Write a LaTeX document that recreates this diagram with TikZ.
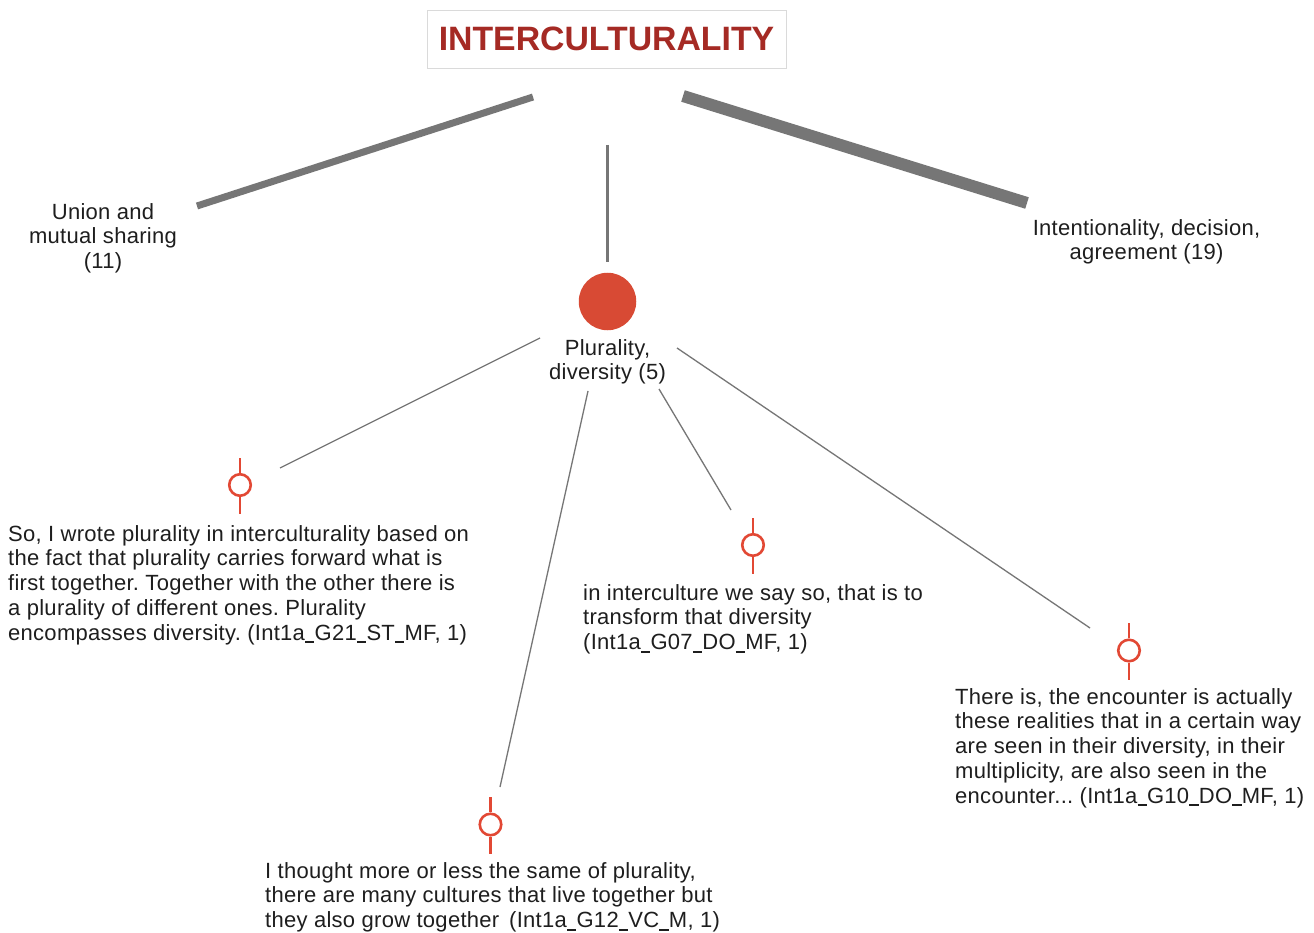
\documentclass[tikz,border=0pt]{standalone}
\usepackage{fontspec}
\setmainfont{Liberation Sans}
\newfontfamily\quotefont[LetterSpace=1.3]{Liberation Sans}
\frenchspacing
\definecolor{titlered}{RGB}{165,42,36}
\definecolor{hubred}{RGB}{216,74,52}
\definecolor{markred}{RGB}{226,72,52}
\definecolor{edgegray}{RGB}{118,118,118}
\definecolor{boxgray}{RGB}{218,218,218}
\definecolor{inkgray}{RGB}{30,30,30}
% a slightly narrower underscore for the interview codes
\newcommand\codebar{\kern0.01em\rule[-0.13em]{0.42em}{0.07em}\kern0.01em}
\begin{document}
\begin{tikzpicture}[x=1pt,y=-1pt,
  txt/.style={inner sep=0pt, font=\quotefont\fontsize{22}{24.75}\selectfont, text=inkgray},
  quote/.style={txt, align=left, anchor=north west},
  catlabel/.style={txt, align=center, anchor=north},
  trunk/.style={draw=edgegray, line cap=butt},
  twig/.style={draw=edgegray, line width=1.3pt},
  marker/.style={circle, draw=markred, line width=2.6pt, minimum size=21.5pt, inner sep=0pt},
  stub/.style={draw=markred, line width=2.6pt}
]
\useasboundingbox[fill=white] (0,0) rectangle (1314,933);

% title
\node[draw=boxgray, line width=0.8pt, minimum width=359pt, minimum height=58pt, inner sep=0pt,
      font=\fontsize{33.8}{40}\selectfont\bfseries, text=titlered] (title) at (606.5,39) {INTERCULTURALITY};

% category labels
\node[catlabel] (union) at (103,203) {Union and\\mutual sharing\\(11)};
\node[catlabel] (intent) at (1146.5,219) {Intentionality, decision,\\agreement (19)};

% central category
\node[circle, fill=hubred, minimum size=57.5pt, inner sep=0pt] (hub) at (607.5,301.5) {};
\node[catlabel] (hublabel) at (607.5,339) {Plurality,\\diversity (5)};

% branch end points
\coordinate (tl) at (533,97);
\coordinate (ul) at (197,206);
\coordinate (tc) at (607,145);
\coordinate (hc) at (607,262);
\coordinate (tr) at (683,96);
\coordinate (ir) at (1027,203);

\draw[trunk, line width=7pt] (tl) -- (ul);
\draw[trunk, line width=3pt] (tc) -- (hc);
\draw[trunk, line width=12pt] (tr) -- (ir);

% quotation markers
\node[marker] (m1) at (240,485) {};
\node[marker] (m2) at (753,545) {};
\node[marker] (m3) at (490.5,824.5) {};
\node[marker] (m4) at (1129,650.5) {};
\foreach \m in {m1,m2,m3,m4}{
  \draw[stub] (\m.north) -- ++(0,-15);
  \draw[stub] (\m.south) -- ++(0,17);
}

% thin connectors from the central category
\coordinate (h1) at (540,338);
\coordinate (q1) at (280,468);
\coordinate (h2) at (588,391);
\coordinate (q2) at (500,787);
\coordinate (h3) at (659,389);
\coordinate (q3) at (731,510);
\coordinate (h4) at (677,348);
\coordinate (q4) at (1090,628);
\draw[twig] (h1) -- (q1);
\draw[twig] (h2) -- (q2);
\draw[twig] (h3) -- (q3);
\draw[twig] (h4) -- (q4);

% quotations
\node[quote] (t1) at (8,525) {So, I wrote plurality in interculturality based on\\the fact that plurality carries forward what is\\first together. Together with the other there is\\a plurality of different ones. Plurality\\encompasses diversity. (Int1a\codebar G21\codebar ST\codebar MF, 1)};
\node[quote] (t2) at (583,584) {in interculture we say so, that is to\\transform that diversity\\(Int1a\codebar G07\codebar DO\codebar MF, 1)};
\node[quote] (t3) at (955,688) {There is, the encounter is actually\\these realities that in a certain way\\are seen in their diversity, in their\\multiplicity, are also seen in the\\encounter... (Int1a\codebar G10\codebar DO\codebar MF, 1)};
\node[quote] (t4) at (265,862) {I thought more or less the same of plurality,\\there are many cultures that live together but\\they also grow together\hspace{0.45em}(Int1a\codebar G12\codebar VC\codebar M, 1)};
\end{tikzpicture}
\end{document}
